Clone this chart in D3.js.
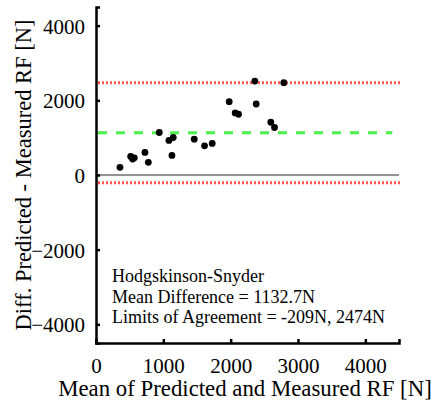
<!DOCTYPE html>
<html>
<head>
<meta charset="utf-8">
<script src="https://cdn.jsdelivr.net/npm/d3@7"></script>
<style>
  body { margin: 0; background: #fff; }
  svg { display: block; font-family: "Liberation Serif", "DejaVu Serif", serif; }
</style>
</head>
<body>
<svg id="chart"></svg>
<script>
let meanVals = [356, 515, 544, 569, 727, 777, 940, 1083, 1147, 1128, 1459, 1612, 1726, 1978, 2067, 2117, 2359, 2379, 2596, 2651, 2789];
let diffVals = [205, 498, 427, 461, 605, 339, 1139, 925, 1005, 525, 960, 782, 845, 1965, 1662, 1627, 2515, 1902, 1413, 1272, 2472];
let xTicks = [0, 1000, 2000, 3000, 4000];
let yTicks = [-4000, -2000, 0, 2000, 4000];
let meanDiff = 1132.7;
let limits = [-209, 2474];
let noteLines = ['Hodgskinson-Snyder', 'Mean Difference = 1132.7N', 'Limits of Agreement = -209N, 2474N'];

let width = 441;
let height = 404;
let plotLeft = 96, plotRight = 399, plotTop = 7, plotBottom = 343;

let svg = d3.select('#chart')
    .attr('width', width)
    .attr('height', height);

let xScale = d3.scaleLinear().domain([0, 4500]).range([plotLeft, plotRight]);
let yScale = d3.scaleLinear().domain([-4500, 4500]).range([plotBottom, plotTop]);

// zero line
svg.append('line')
    .attr('x1', xScale(0)).attr('x2', xScale(4500))
    .attr('y1', yScale(0)).attr('y2', yScale(0))
    .attr('stroke', '#707070').attr('stroke-width', 1.5);

// limits of agreement
limits.forEach(v => {
    svg.append('line')
        .attr('x1', xScale(0) + 2).attr('x2', xScale(4500) + 1)
        .attr('y1', yScale(v)).attr('y2', yScale(v))
        .attr('stroke', '#ff5555').attr('stroke-width', 3)
        .attr('stroke-dasharray', '2,2');
});

// mean difference
svg.append('line')
    .attr('x1', xScale(0) + 2).attr('x2', xScale(4400))
    .attr('y1', yScale(meanDiff)).attr('y2', yScale(meanDiff))
    .attr('stroke', '#4cf04c').attr('stroke-width', 3)
    .attr('stroke-dasharray', '9,9');

// points
svg.selectAll('circle')
    .data(meanVals)
    .enter()
    .append('circle')
    .attr('cx', (d) => xScale(d))
    .attr('cy', (d, i) => yScale(diffVals[i]))
    .attr('r', 3.4)
    .attr('fill', '#000');

// axes
let xAxis = d3.axisBottom(xScale).tickValues(xTicks).tickSize(-4).tickPadding(15).tickFormat(d3.format('d'));
let gx = svg.append('g')
    .attr('transform', 'translate(0,' + plotBottom + ')')
    .call(xAxis);

let yAxis = d3.axisLeft(yScale).tickValues(yTicks).tickSize(-4).tickPadding(11).tickFormat(d3.format('d'));
let gy = svg.append('g')
    .attr('transform', 'translate(' + plotLeft + ',0)')
    .call(yAxis);

[gx, gy].forEach(g => {
    g.attr('font-family', '"Liberation Serif", serif').attr('font-size', 21);
    g.select('.domain').attr('stroke', '#000').attr('stroke-width', 2.5);
    g.selectAll('.tick line').attr('stroke', '#000').attr('stroke-width', 2.5);
    g.selectAll('.tick text').attr('fill', '#000');
});
gy.selectAll('.tick text').attr('x', -11).attr('dy', '0.35em');

// axis titles
svg.append('text')
    .attr('x', 245)
    .attr('y', 396)
    .attr('text-anchor', 'middle')
    .style('font-size', '22.8px')
    .text('Mean of Predicted and Measured RF [N]');

svg.append('text')
    .attr('transform', 'translate(31,175) rotate(-90)')
    .attr('text-anchor', 'middle')
    .style('font-size', '22.5px')
    .text('Diff. Predicted - Measured RF [N]');

// annotation
noteLines.forEach((t, i) => {
    svg.append('text')
        .attr('x', 112)
        .attr('y', 282 + i * 20.7)
        .style('font-size', '18px')
        .text(t);
});
</script>
</body>
</html>
